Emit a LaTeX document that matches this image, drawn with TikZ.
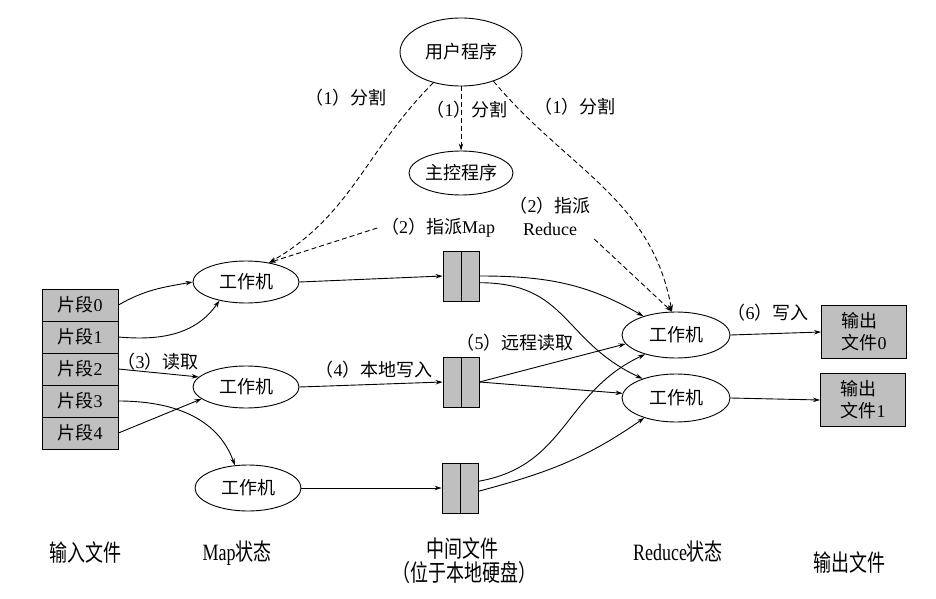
\documentclass[tikz,border=0pt]{standalone}
\usepackage{fontspec}
\usepackage{graphicx}
\setmainfont{Liberation Serif}
\newfontfamily\cjk{Noto Sans CJK SC}
\newcommand\zh[1]{{\cjk #1}}
\newcommand\tall[1]{\scalebox{1}[1.3]{#1}}
\usetikzlibrary{shapes.geometric,arrows.meta}
\begin{document}
\begin{tikzpicture}[x=1pt,y=1pt,>={Stealth[length=7pt,width=4.5pt]},line width=0.9pt,
  every node/.style={font=\fontsize{18}{22}\selectfont},
  worker/.style={draw,ellipse,inner sep=0pt,minimum width=106pt,minimum height=42pt},
  seg/.style={draw,fill=gray!50,minimum width=76pt,minimum height=32pt,inner sep=0pt},
  tmpfile/.style={draw,fill=gray!50,minimum width=36pt,minimum height=50pt,inner sep=0pt},
  outfile/.style={draw,fill=gray!50,minimum width=85pt,minimum height=53pt,align=left,inner sep=0pt},
  split/.style={dashed,dash pattern=on 5pt off 3pt}]
  \useasboundingbox (0,0) rectangle (936,598);
  % master and user program
  \node[worker,minimum width=122pt,minimum height=68pt] (user) at (461,546) {\zh{用户程序}};
  \node[worker,minimum width=104pt,minimum height=44pt] (master) at (461,425) {\zh{主控程序}};
  % input splits
  \foreach \i/\y in {0/293,1/261,2/229,3/197,4/165}
    \node[seg] (s\i) at (80,\y) {\zh{片段}\i};
  % map workers
  \node[worker] (m1) at (246,316) {\zh{工作机}};
  \node[worker] (m2) at (246,211) {\zh{工作机}};
  \node[worker,minimum height=46pt] (m3) at (248,110) {\zh{工作机}};
  % intermediate files
  \node[tmpfile] (f1) at (461,322) {};
  \node[tmpfile] (f2) at (461,216) {};
  \node[tmpfile] (f3) at (460,110) {};
  \foreach \f in {f1,f2,f3}
    \draw (\f.north) -- (\f.south);
  % reduce workers
  \node[worker,minimum width=108pt,minimum height=46pt] (r1) at (676,263) {\zh{工作机}};
  \node[worker,minimum width=108pt,minimum height=48pt] (r2) at (676,200) {\zh{工作机}};
  % output files
  \node[outfile] (o0) at (864,266) {\zh{输出}\\\zh{文件}0};
  \node[outfile] (o1) at (863,198) {\zh{输出}\\\zh{文件}1};
  % labels
  \node (l1a) at (346,500) {\zh{（}1\zh{）分割}};
  \node (l1b) at (467,488) {\zh{（}1\zh{）分割}};
  \node (l1c) at (575,491) {\zh{（}1\zh{）分割}};
  \node (l2m) at (438,370) {\zh{（}2\zh{）指派}Map};
  \node[align=center,font=\fontsize{18}{23}\selectfont] (l2r) at (550,382) {\zh{（}2\zh{）指派}\\Reduce};
  \node (l3) at (158,236) {\zh{（}3\zh{）读取}};
  \node (l4) at (374,228) {\zh{（}4\zh{）本地写入}};
  \node (l5) at (515,255) {\zh{（}5\zh{）远程读取}};
  \node (l6) at (768,285) {\zh{（}6\zh{）写入}};
  \node (b1) at (85,45) {\tall{\zh{输入文件}}};
  \node (b2) at (237,45) {\tall{Map\zh{状态}}};
  \node (b3a) at (462,49) {\tall{\zh{中间文件}}};
  \node (b3b) at (464,25) {\tall{\zh{（位于本地硬盘）}}};
  \node (b4) at (678,46) {\tall{Reduce\zh{状态}}};
  \node (b5) at (849,35) {\tall{\zh{输出文件}}};
  % dashed: split and assign
  \draw[split,->] (user) -- (master);
  \draw[split,->] (user.228) to[out=225,in=30] (m1.40);
  \draw[split,->] (l2m.west) -- (m1.40);
  \draw[split,->] (user.-42) to[out=-50,in=100] (r1.100);
  \draw[split,->] (l2r.south east) -- (r1.100);
  % read splits
  \draw[->] (s0.east) to[out=30,in=190] (m1.west);
  \draw[->] (s1.east) to[out=-5,in=235] (m1.215);
  \draw[->] (s2.east) -- (m2.168);
  \draw[->] (s4.east) -- (m2.195);
  \draw[->] (s3.east) to[out=0,in=110] (m3.120);
  % local write
  \draw[->] (m1.east) -- (f1.west);
  \draw[->] (m2.east) -- (f2.west);
  \draw[->] (m3.east) -- (f3.west);
  % remote read
  \draw[->] (f1.east) to[out=0,in=150] (r1.150);
  \draw[->] (f1.-20) to[out=0,in=155,looseness=1.2] (r2.150);
  \draw[->] (f2.east) -- (r1.190);
  \draw[->] (f2.east) -- (r2.175);
  \draw[->] (f3.20) to[out=10,in=205,looseness=1.1] (r1.212);
  \draw[->] (f3.-10) to[out=15,in=215] (r2.212);
  % write output
  \draw[->] (r1.east) -- (o0.west);
  \draw[->] (r2.east) -- (o1.west);
\end{tikzpicture}
\end{document}
